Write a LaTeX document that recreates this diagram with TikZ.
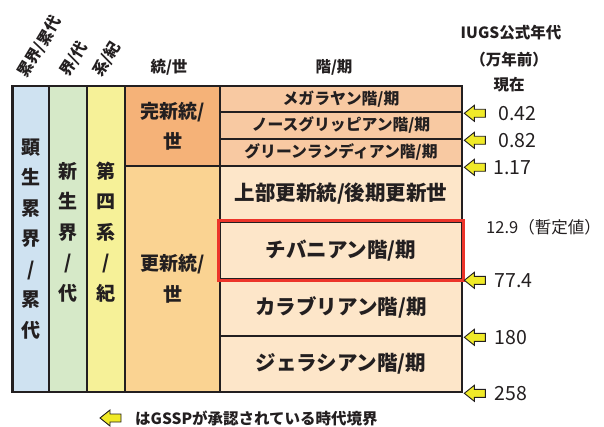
\documentclass[tikz,border=0pt]{standalone}
\usepackage{fontspec}
\setmainfont{Noto Sans CJK JP}
\usetikzlibrary{calc}
\definecolor{ink}{RGB}{35,31,32}
\definecolor{cblue}{RGB}{207,226,241}
\definecolor{cgreen}{RGB}{214,233,200}
\definecolor{cyellow}{RGB}{246,241,152}
\definecolor{corange}{RGB}{245,178,120}
\definecolor{clorange}{RGB}{250,211,146}
\definecolor{csalmon}{RGB}{248,201,162}
\definecolor{cpeach}{RGB}{253,230,201}
\definecolor{cred}{RGB}{236,52,42}
\definecolor{cgold}{RGB}{240,234,40}
\tikzset{
  cell/.style={draw=ink, line width=2.6pt, rectangle, inner sep=0pt, text=ink, align=center},
  coltext/.style={font=\fontsize{19}{30.5}\selectfont\bfseries},
  smallrow/.style={font=\fontsize{15.8}{17}\selectfont\bfseries},
  bigrow/.style={font=\fontsize{20.5}{22}\selectfont\bfseries},
  head/.style={text=ink, inner sep=0pt, font=\fontsize{15.5}{18}\selectfont\bfseries},
  num/.style={text=ink, inner sep=0pt, anchor=west, font=\fontsize{19.5}{20}\selectfont},
  pics/gssp/.style={code={
    \draw[fill=cgold, draw=ink, line width=0.9pt, line join=miter]
      (0,0) -- (10,-8) -- (10,-4) -- (21,-4) -- (21,4) -- (10,4) -- (10,8) -- cycle;
  }}
}
\begin{document}
\begin{tikzpicture}[x=1pt,y=-1pt]
\useasboundingbox (0,0) rectangle (604,427);
% columns
\node[cell, fill=cblue, minimum width=37pt, minimum height=306pt, coltext] (eon) at (31,239) {顕\\生\\累\\界\\/\\累\\代};
\node[cell, fill=cgreen, minimum width=38pt, minimum height=306pt, coltext] (era) at (68,239) {\\新\\生\\界\\/\\代\\ };
\node[cell, fill=cyellow, minimum width=38pt, minimum height=306pt, coltext] (sys) at (106,239) {\\第\\四\\系\\/\\紀\\ };
\node[cell, fill=corange, minimum width=95pt, minimum height=80pt, font=\fontsize{19}{30}\selectfont\bfseries] (holo) at (172.5,126) {完新統/\\世};
\node[cell, fill=clorange, minimum width=95pt, minimum height=226pt, font=\fontsize{19}{31}\selectfont\bfseries] (pleis) at (172.5,279) {更新統/\\世};
% stages
\node[cell, fill=csalmon, minimum width=242pt, minimum height=26pt, smallrow] (meg) at (341,99) {メガラヤン階/期};
\node[cell, fill=csalmon, minimum width=242pt, minimum height=27pt, smallrow] (nor) at (341,125.5) {ノースグリッピアン階/期};
\node[cell, fill=csalmon, minimum width=242pt, minimum height=27pt, smallrow] (gre) at (341,152.5) {グリーンランディアン階/期};
\node[cell, fill=cpeach, minimum width=242pt, minimum height=56pt, bigrow] (upp) at (341,194) {上部更新統/後期更新世};
\node[cell, fill=cpeach, minimum width=242pt, minimum height=57pt, bigrow] (chi) at (341,250.5) {チバニアン階/期};
\node[cell, fill=cpeach, minimum width=242pt, minimum height=57pt, bigrow] (cal) at (341,307.5) {カラブリアン階/期};
\node[cell, fill=cpeach, minimum width=242pt, minimum height=56pt, bigrow] (gel) at (341,364) {ジェラシアン階/期};
\draw[cred, line width=2.6pt] (chi.north west) rectangle (chi.south east);
% headers
\node[head, rotate=59] (h1) at (40,47) {累界/累代};
\node[head, rotate=57] (h2) at (74,59) {界/代};
\node[head, rotate=57] (h3) at (107,59) {系/紀};
\node[head] (h4) at (169,67) {統/世};
\node[head] (h5) at (334,67) {階/期};
\node[head] (h6) at (511,33) {IUGS公式年代};
\node[head] (h7) at (509,60) {（万年前）};
\node[head] (h8) at (509,85) {現在};
% arrows and ages
\coordinate (b1) at (meg.south east);
\coordinate (b2) at (nor.south east);
\coordinate (b3) at (gre.south east);
\coordinate (b4) at (chi.south east);
\coordinate (b5) at (cal.south east);
\coordinate (b6) at (gel.south east);
\foreach \b/\t/\dx in {b1/0.42/35, b2/0.82/35, b3/1.17/30, b4/77.4/31, b5/180/31, b6/258/31}{
  \pic at ($(\b)+(1,0)$) {gssp};
  \node[num] (n\b) at ($(\b)+(\dx,0)$) {\t};
}
\node[num, font=\fontsize{16.5}{20}\selectfont] (tmp) at (486,227) {12.9（暫定値）};
% legend
\coordinate (lg) at (100,418);
\pic at (lg) {gssp};
\node[text=ink, anchor=west, inner sep=0pt, font=\fontsize{15.5}{18}\selectfont\bfseries] (leg) at (135,418) {はGSSPが承認されている時代境界};
\end{tikzpicture}
\end{document}
